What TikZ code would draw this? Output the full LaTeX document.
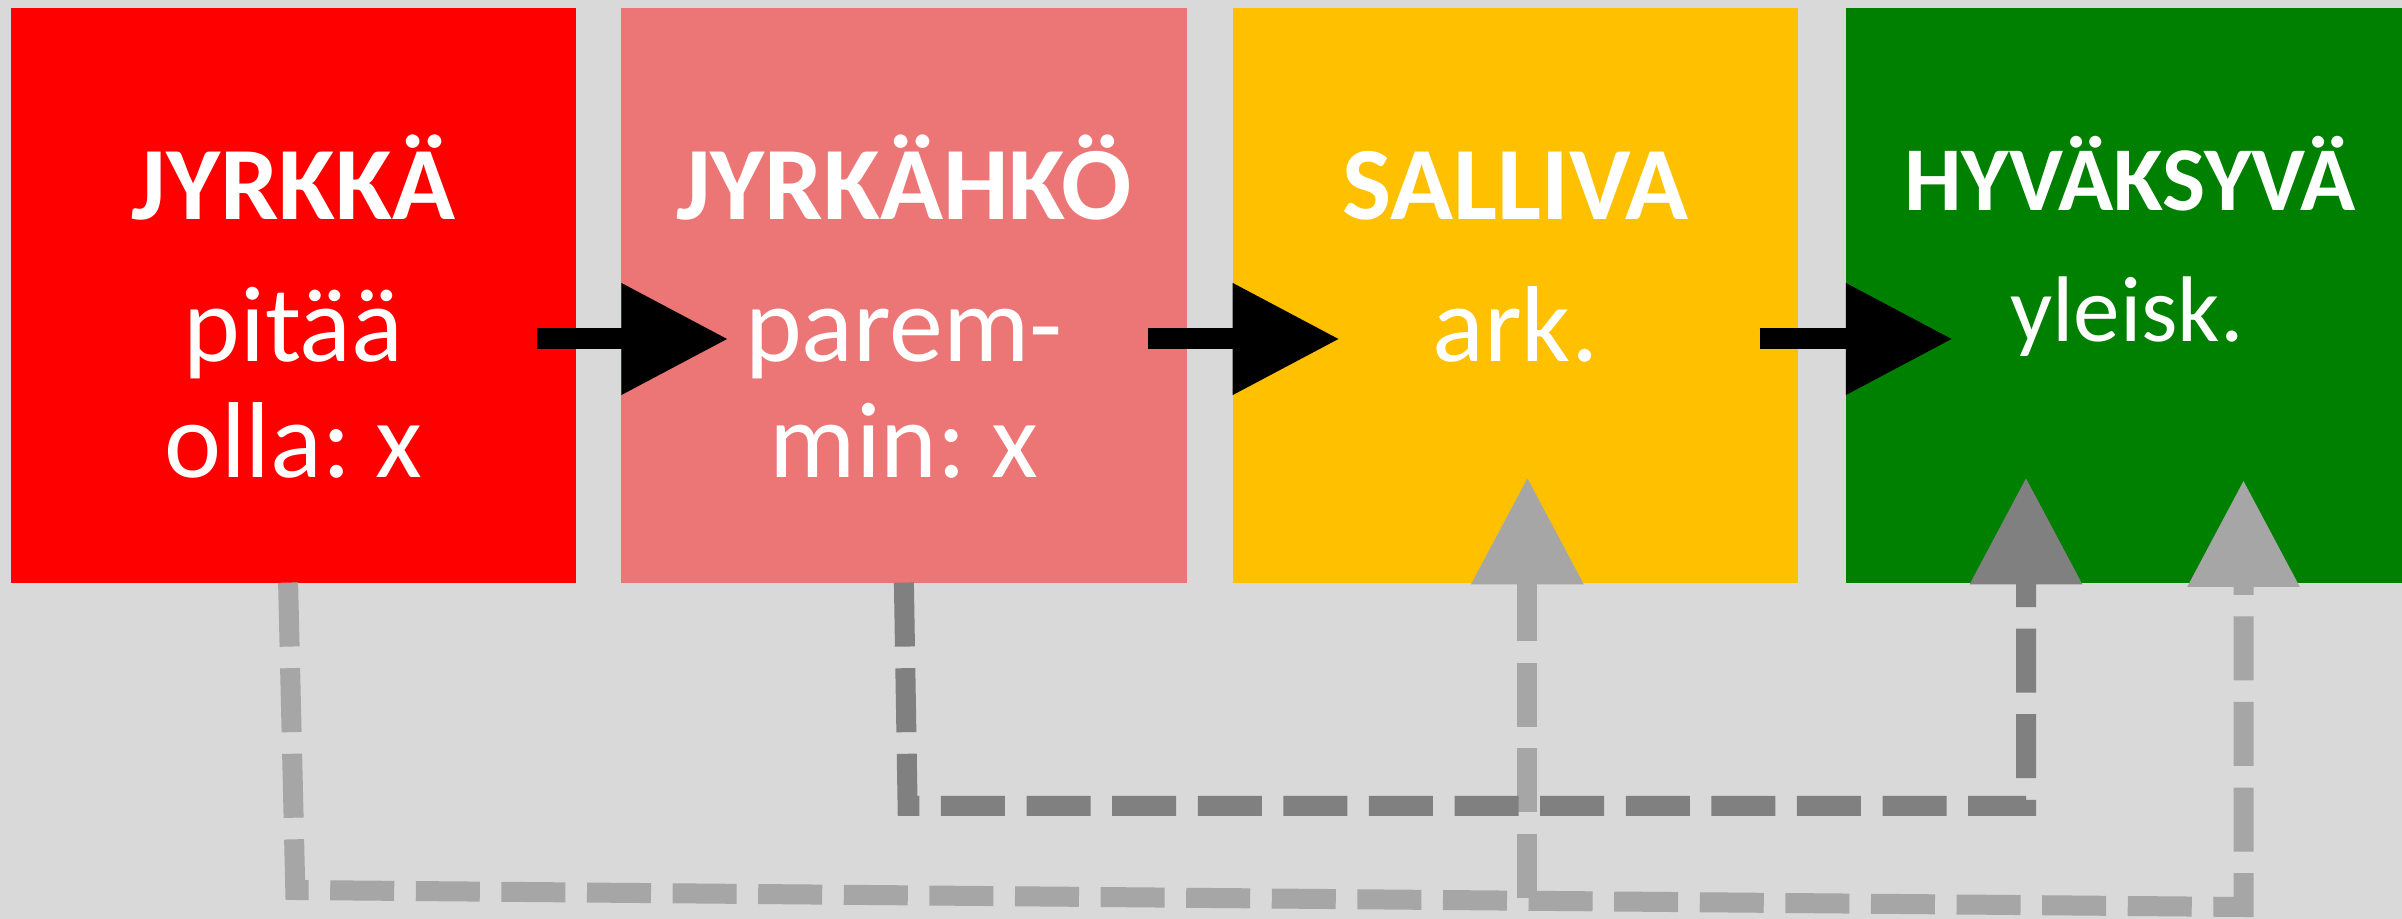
\documentclass[tikz,border=0pt]{standalone}
\usepackage{fontspec}
\setmainfont{Carlito}
\frenchspacing
\usetikzlibrary{arrows.meta,calc}
\definecolor{bg}{HTML}{D9D9D9}
\definecolor{c1}{HTML}{FF0000}
\definecolor{c2}{HTML}{EC7676}
\definecolor{c3}{HTML}{FFC000}
\definecolor{c4}{HTML}{008000}
\definecolor{lg}{HTML}{A6A6A6}
\definecolor{dg}{HTML}{808080}
\begin{document}
\begin{tikzpicture}[x=0.25pt,y=-0.25pt,
 box/.style={rectangle, inner sep=0pt, outer sep=0pt, minimum width=141.3pt, minimum height=143.6pt},
 ttl/.style={anchor=base, text=white, font=\bfseries\fontsize{26}{26}\selectfont, inner sep=0pt},
 bdy/.style={anchor=base, text=white, font=\fontsize{27}{27}\selectfont, inner sep=0pt},
 ttlsm/.style={anchor=base, text=white, font=\bfseries\fontsize{22.8}{22.8}\selectfont, inner sep=0pt},
 bdysm/.style={anchor=base, text=white, font=\fontsize{23.3}{23.3}\selectfont, inner sep=0pt},
 flow/.style={draw=black, line width=5.25pt, -{Triangle[length=26.75pt,width=26.5pt]}},
 dsh/.style={line width=5pt, dash pattern=on 16pt off 5.4pt, -{Triangle[length=26.75pt,width=26.75pt]}},
]
\fill[bg] (0,0) rectangle (2402,919);
\useasboundingbox (0,0) rectangle (2402,919);

% boxes
\node[box, fill=c1] (b1) at (293.5,295.4) {};
\node[box, fill=c2] (b2) at (903.9,295.4) {};
\node[box, fill=c3] (b3) at (1515.3,295.4) {};
\node[box, fill=c4] (b4) at (2128.4,295.4) {};

% texts
\node[ttl] (t1) at (293.5,219.8) {JYRKKÄ};
\node[bdy] (s1a) at (293.5,361.6) {pitää};
\node[bdy] (s1b) at (293.5,477.7) {olla: x};

\node[ttl] (t2) at (903.9,219.8) {JYRKÄHKÖ};
\node[bdy] (s2a) at (903.9,361.6) {parem-};
\node[bdy] (s2b) at (903.9,477.7) {min: x};

\node[ttl] (t3) at (1515.3,219.8) {SALLIVA};
\node[bdy] (s3a) at (1515.3,361.6) {ark.};

\node[ttlsm] (t4) at (2130,211) {HYVÄKSYVÄ};
\node[bdysm] (s4a) at (2127,341.7) {yleisk.};

% black flow arrows
\draw[flow] ($(b1.east)+(-39.6,43.6)$) -- ($(b2.west)+(107,43.6)$);
\draw[flow] ($(b2.east)+(-38.3,43.6)$) -- ($(b3.west)+(107,43.6)$);
\draw[flow] ($(b3.east)+(-38.3,43.6)$) -- ($(b4.west)+(107,43.6)$);

% light grey dashed connectors
\coordinate (l1) at ($(b1.south)+(1.8,307.4)$);
\coordinate (l2) at (2243.5,907);
\coordinate (j3) at (1527.4,898);
\draw[dsh, draw=lg] ($(b1.south)+(-5.4,0)$) -- (l1) -- (l2) -- (2243.5,480);
\draw[dsh, draw=lg] (j3) -- (1527.4,477.3);

% dark grey dashed connector
\coordinate (d1) at ($(b2.south)+(3.7,223.4)$);
\coordinate (d2) at (2026,806);
\draw[dsh, draw=dg] (b2.south) -- (d1) -- (d2) -- (2026,477.3);
\end{tikzpicture}
\end{document}
